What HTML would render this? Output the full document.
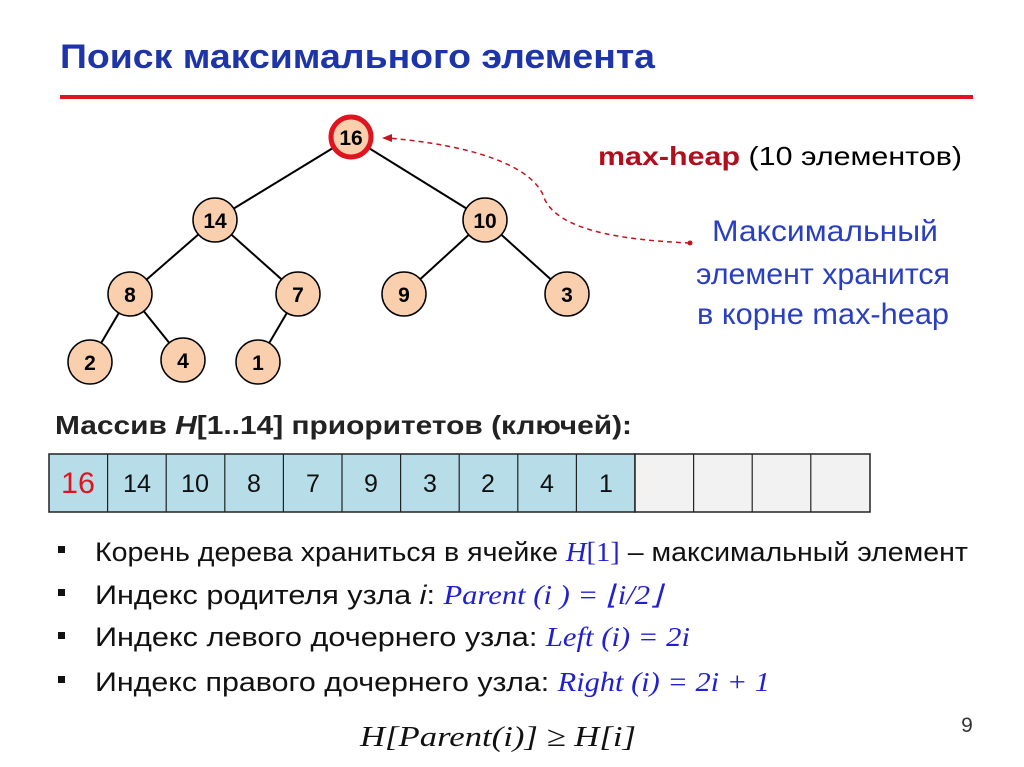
<!DOCTYPE html>
<html><head><meta charset="utf-8"><style>
html,body{margin:0;padding:0;background:#fff;}
svg{display:block;}
</style></head><body>
<svg width="1024" height="767" viewBox="0 0 1024 767" xmlns="http://www.w3.org/2000/svg" font-family="Liberation Sans, sans-serif">
<text x="60" y="68" font-size="34" font-weight="bold" fill="#1d35a8" textLength="595" lengthAdjust="spacingAndGlyphs">Поиск максимального элемента</text>
<rect x="60" y="95" width="913" height="4" fill="#e0141e"/>
<g stroke="#000" stroke-width="2">
<line x1="351" y1="137" x2="215" y2="220"/>
<line x1="351" y1="137" x2="485" y2="220"/>
<line x1="215" y1="220" x2="130" y2="294"/>
<line x1="215" y1="220" x2="298" y2="294"/>
<line x1="485" y1="220" x2="404" y2="294"/>
<line x1="485" y1="220" x2="567" y2="294"/>
<line x1="130" y1="294" x2="90" y2="362"/>
<line x1="130" y1="294" x2="183" y2="360"/>
<line x1="298" y1="294" x2="258" y2="362"/>
</g>
<path d="M690 243 C620 240 560 230 545 200 C535 165 470 145 388 138" fill="none" stroke="#c0141e" stroke-width="1.5" stroke-dasharray="5,4"/>
<polygon points="382,138 392,134 392,142" fill="#c0141e"/>
<circle cx="690" cy="243" r="2.5" fill="#c0141e"/>
<g stroke="#000" stroke-width="1.5" fill="#f9cfae">
<circle cx="215" cy="220" r="22"/><circle cx="485" cy="220" r="22"/>
<circle cx="130" cy="294" r="22"/><circle cx="298" cy="294" r="22"/>
<circle cx="404" cy="294" r="22"/><circle cx="567" cy="294" r="22"/>
<circle cx="90" cy="362" r="22"/><circle cx="183" cy="360" r="22"/><circle cx="258" cy="362" r="22"/>
</g>
<circle cx="351" cy="137" r="20" fill="#f9cfae" stroke="#e0141e" stroke-width="5"/>
<g font-size="21" font-weight="bold" text-anchor="middle" fill="#000">
<text x="351" y="145">16</text><text x="215" y="228">14</text><text x="485" y="228">10</text>
<text x="130" y="302">8</text><text x="298" y="302">7</text><text x="404" y="302">9</text><text x="567" y="302">3</text>
<text x="90" y="370">2</text><text x="183" y="368">4</text><text x="258" y="370">1</text>
</g>
<text x="598" y="165" font-size="26" fill="#000" textLength="364" lengthAdjust="spacingAndGlyphs"><tspan fill="#b0101e" font-weight="bold">max-heap</tspan> (10 элементов)</text>
<g font-size="30" fill="#2a3fc0" text-anchor="middle">
<text x="825" y="241" textLength="226" lengthAdjust="spacingAndGlyphs">Максимальный</text>
<text x="823" y="284" textLength="254" lengthAdjust="spacingAndGlyphs">элемент хранится</text>
<text x="823" y="324" textLength="252" lengthAdjust="spacingAndGlyphs">в корне max-heap</text>
</g>
<text x="55" y="434" font-size="26" font-weight="bold" fill="#222" textLength="577" lengthAdjust="spacingAndGlyphs">Массив <tspan font-style="italic">H</tspan>[1..14] приоритетов (ключей):</text>
<g stroke="#222" stroke-width="1.5">
<rect x="49" y="454" width="586" height="58" fill="#b7dde8"/>
<rect x="635" y="454" width="235" height="58" fill="#f2f2f2"/>
</g>
<g stroke="#222" stroke-width="1.2">
<line x1="107.6" y1="454" x2="107.6" y2="512"/><line x1="166.2" y1="454" x2="166.2" y2="512"/>
<line x1="224.8" y1="454" x2="224.8" y2="512"/><line x1="283.4" y1="454" x2="283.4" y2="512"/>
<line x1="342" y1="454" x2="342" y2="512"/><line x1="400.6" y1="454" x2="400.6" y2="512"/>
<line x1="459.2" y1="454" x2="459.2" y2="512"/><line x1="517.8" y1="454" x2="517.8" y2="512"/>
<line x1="576.4" y1="454" x2="576.4" y2="512"/><line x1="693.6" y1="454" x2="693.6" y2="512"/>
<line x1="752.2" y1="454" x2="752.2" y2="512"/><line x1="810.8" y1="454" x2="810.8" y2="512"/>
</g>
<g font-size="25" text-anchor="middle" fill="#111">
<text x="78" y="493" font-size="30" fill="#e0141e" textLength="34" lengthAdjust="spacingAndGlyphs">16</text>
<text x="137" y="492" textLength="28" lengthAdjust="spacingAndGlyphs">14</text><text x="195" y="492" textLength="28" lengthAdjust="spacingAndGlyphs">10</text><text x="254" y="492">8</text>
<text x="313" y="492">7</text><text x="371" y="492">9</text><text x="430" y="492">3</text>
<text x="488" y="492">2</text><text x="547" y="492">4</text><text x="606" y="492">1</text>
</g>
<g fill="#111">
<rect x="58" y="546" width="7" height="7"/><rect x="58" y="589" width="7" height="7"/>
<rect x="58" y="632" width="7" height="7"/><rect x="58" y="676" width="7" height="7"/>
</g>
<g font-size="27" fill="#111">
<text x="95" y="561" textLength="873" lengthAdjust="spacingAndGlyphs">Корень дерева храниться в ячейке <tspan fill="#2020d0" font-family="Liberation Serif, serif" font-style="italic">H</tspan><tspan fill="#2020d0" font-family="Liberation Serif, serif">[1]</tspan> – максимальный элемент</text>
<text x="95" y="604" textLength="567" lengthAdjust="spacingAndGlyphs">Индекс родителя узла <tspan font-style="italic">i</tspan>: <tspan fill="#2020d0" font-family="Liberation Serif, serif" font-style="italic">Parent (i ) = ⌊i/2⌋</tspan></text>
<text x="95" y="646" textLength="595" lengthAdjust="spacingAndGlyphs">Индекс левого дочернего узла: <tspan fill="#2020d0" font-family="Liberation Serif, serif" font-style="italic">Left (i) = 2i</tspan></text>
<text x="95" y="691" textLength="675" lengthAdjust="spacingAndGlyphs">Индекс правого дочернего узла: <tspan fill="#2020d0" font-family="Liberation Serif, serif" font-style="italic">Right (i) = 2i + 1</tspan></text>
<text x="360" y="746" font-size="29" font-family="Liberation Serif, serif" font-style="italic" textLength="276" lengthAdjust="spacingAndGlyphs">H[Parent(i)] ≥ H[i]</text>
</g>
<text x="967" y="732" font-size="21" fill="#333" text-anchor="middle">9</text>
</svg>
</body></html>
